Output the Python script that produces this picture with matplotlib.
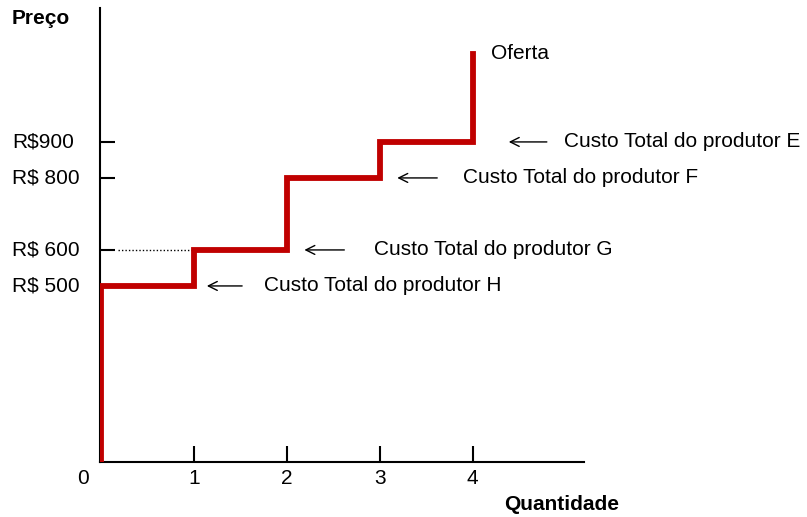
import matplotlib
matplotlib.use("Agg")
import matplotlib.pyplot as plt
import matplotlib.transforms as mtransforms

plt.rcParams['font.family'] = ['Liberation Sans', 'DejaVu Sans']

# supply curve steps (quantity, price)
quantidades = [0, 0, 1, 1, 2, 2, 3, 3, 4, 4]
precos = [0, 500, 500, 600, 600, 800, 800, 900, 900, 1145]

# price ticks shown on the left
preco_ticks = [500, 600, 800, 900]
preco_labels = ["R$ 500", "R$ 600", "R$ 800", "R$900"]
qtd_ticks = [1, 2, 3, 4]

# producer labels: arrow head x, arrow tail x, text x, price, text
produtores = [
    (1.14, 1.52, 1.75, 500, "Custo Total do produtor H"),
    (2.19, 2.62, 2.94, 600, "Custo Total do produtor G"),
    (3.19, 3.62, 3.90, 800, "Custo Total do produtor F"),
    (4.39, 4.80, 4.98, 900, "Custo Total do produtor E"),
]

fig = plt.figure(figsize=(8.07, 5.17), dpi=100)
W, H = 807, 517
ax = fig.add_axes([100 / W, 1 - 462 / H, (584 - 100) / W, (462 - 8) / H])

ax.set_xlim(-0.01, 5.2)
ax.set_ylim(11, 1272)

ax.plot(quantidades, precos, color="#C00000", lw=4.2, solid_joinstyle="miter", zorder=3)

# dotted guide at 600
ax.plot([0.18, 0.98], [600, 600], color="black", lw=1, ls=(0, (1, 1.5)))

for s in ["top", "right"]:
    ax.spines[s].set_visible(False)
for s in ["left", "bottom"]:
    ax.spines[s].set_linewidth(1.5)

ax.set_xticks(qtd_ticks)
ax.set_xticklabels([str(q) for q in qtd_ticks], fontsize=15)
ax.tick_params(axis="x", direction="in", length=11.5, width=1.5, pad=5)
ax.set_yticks(preco_ticks)
ax.set_yticklabels([])
ax.tick_params(axis="y", direction="in", length=11, width=1.5)

trans = mtransforms.blended_transform_factory(fig.transFigure, ax.transData)
for p, lab in zip(preco_ticks, preco_labels):
    ax.text(12 / W, p, lab, transform=trans, ha="left", va="center", fontsize=15)

ax.text(83 / W, 1 - 478 / H, "0", transform=fig.transFigure, ha="center", va="center", fontsize=15)

for xh, xt, xl, p, lab in produtores:
    ax.annotate("", xy=(xh, p), xytext=(xt, p),
                arrowprops=dict(arrowstyle="->", lw=1, color="black",
                                shrinkA=0, shrinkB=0, mutation_scale=16))
    ax.text(xl, p, lab, ha="left", va="center", fontsize=15)

ax.text(4.2, 1145, "Oferta", ha="left", va="center", fontsize=15)

fig.text(12 / W, 1 - 18 / H, "Preço", ha="left", va="center", fontsize=15, fontweight="bold")
fig.text(562 / W, 1 - 504 / H, "Quantidade", ha="center", va="center", fontsize=15, fontweight="bold")

fig.savefig("out.png", dpi=100)
